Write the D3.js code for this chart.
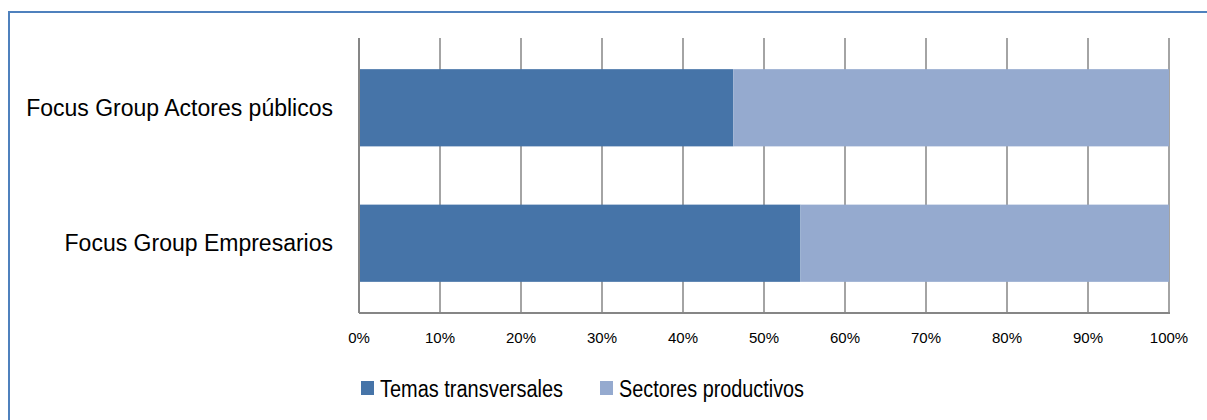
<!DOCTYPE html>
<html>
<head>
<meta charset="utf-8">
<script src="https://cdn.jsdelivr.net/npm/d3@7"></script>
<style>
  body { margin: 0; background: #fff; }
  svg { display: block; font-family: 'Liberation Sans', Arial, sans-serif; }
</style>
</head>
<body>
<script>
// Data
const categories = ['Focus Group Actores públicos', 'Focus Group Empresarios']
const series = ['Temas transversales', 'Sectores productivos']
const temas = [46.2, 54.5]
const sectores = [53.8, 45.5]
const ticks = [0, 10, 20, 30, 40, 50, 60, 70, 80, 90, 100]
const COLORS = ['#4674A8', '#95AACF']

const width = 1207
const height = 420
const plotLeft = 359
const plotRight = 1169
const plotTop = 38
const plotBottom = 313

const svg = d3.select('body').append('svg')
  .attr('width', width)
  .attr('height', height)

// Outer frame
svg.append('rect')
  .attr('x', 9)
  .attr('y', 12)
  .attr('width', 1240)
  .attr('height', 440)
  .attr('fill', 'none')
  .attr('stroke', '#4F81BD')
  .attr('stroke-width', 2)

const x = d3.scaleLinear().domain([0, 100]).range([plotLeft, plotRight])
const y = d3.scaleBand().domain(categories).range([plotTop, plotBottom]).paddingInner(0.43).paddingOuter(0.23)

// Grid lines
svg.append('g')
  .selectAll('line')
  .data(ticks)
  .enter()
  .append('line')
  .attr('x1', d => x(d))
  .attr('x2', d => x(d))
  .attr('y1', plotTop)
  .attr('y2', plotBottom)
  .style('stroke', '#868686')
  .style('stroke-width', 1.5)

// Stacked bars
const rows = categories.map((c, i) => ({ cat: c, vals: [temas[i], sectores[i]] }))
rows.forEach(r => {
  let acc = 0
  r.vals.forEach((v, j) => {
    svg.append('rect')
      .attr('x', x(acc))
      .attr('y', y(r.cat))
      .attr('width', x(acc + v) - x(acc))
      .attr('height', y.bandwidth())
      .attr('fill', COLORS[j])
    acc += v
  })
})

// Axis lines
svg.append('line')
  .attr('x1', plotLeft).attr('x2', plotRight + 1)
  .attr('y1', plotBottom).attr('y2', plotBottom)
  .style('stroke', '#868686').style('stroke-width', 2)
svg.append('line')
  .attr('x1', plotLeft).attr('x2', plotLeft)
  .attr('y1', plotTop).attr('y2', plotBottom)
  .style('stroke', '#868686').style('stroke-width', 2)

// Tick labels
svg.append('g')
  .selectAll('text')
  .data(ticks)
  .enter()
  .append('text')
  .attr('x', d => x(d))
  .attr('y', 343)
  .style('text-anchor', 'middle')
  .style('font-size', '15px')
  .text(d => `${d}%`)

// Category labels
svg.append('g')
  .selectAll('text')
  .data(categories)
  .enter()
  .append('text')
  .attr('x', 333)
  .attr('y', d => y(d) + y.bandwidth() / 2 + 8)
  .style('text-anchor', 'end')
  .style('font-size', '23px')
  .text(d => d)

// Legend
const legendX = [361, 600]
const legendW = [183, 185]
const legend = svg.append('g')
legend.selectAll('rect')
  .data(series)
  .enter()
  .append('rect')
  .attr('x', (_, i) => legendX[i])
  .attr('y', 381)
  .attr('width', 13)
  .attr('height', 14)
  .attr('fill', (_, i) => COLORS[i])
legend.selectAll('text')
  .data(series)
  .enter()
  .append('text')
  .attr('x', (_, i) => legendX[i] + 19)
  .attr('y', 397)
  .attr('textLength', (_, i) => legendW[i])
  .attr('lengthAdjust', 'spacingAndGlyphs')
  .style('font-size', '23px')
  .text(d => d)
</script>
</body>
</html>
